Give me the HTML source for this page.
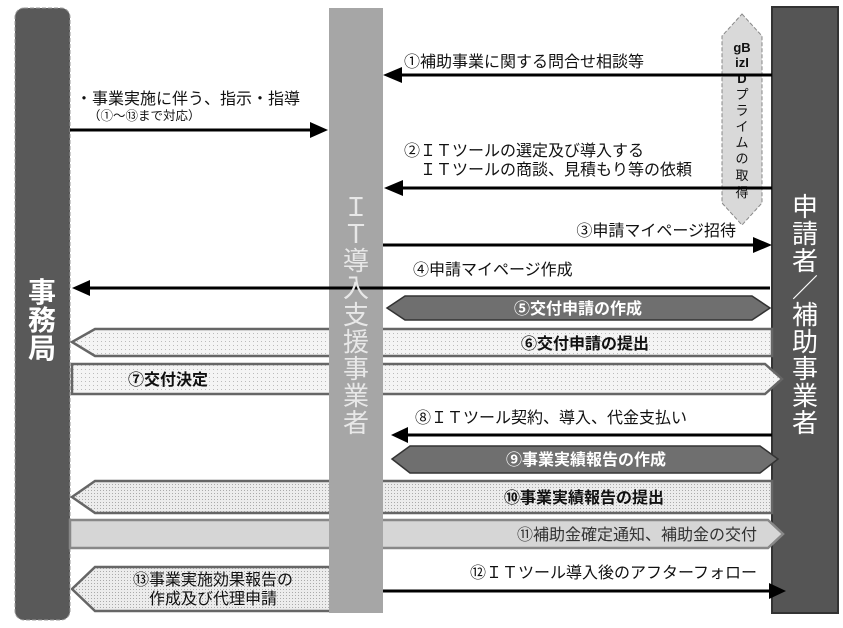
<!DOCTYPE html>
<html><head><meta charset="utf-8"><style>
body{margin:0;background:#fff}
svg{display:block;font-family:"Liberation Sans","Noto Sans CJK JP",sans-serif}
</style></head><body>
<svg width="843" height="628" viewBox="0 0 843 628" xmlns="http://www.w3.org/2000/svg">
<defs>
<pattern id="dots" width="4" height="4" patternUnits="userSpaceOnUse"><rect width="4" height="4" fill="#f4f4f4"/><rect x="1" y="1" width="1" height="1" fill="#bbb"/></pattern>
<pattern id="dots2" width="3" height="3" patternUnits="userSpaceOnUse"><rect width="3" height="3" fill="#ececec"/><rect x="1" y="1" width="1" height="1" fill="#aaa"/></pattern>
</defs>

<rect x="15" y="8" width="55" height="612" rx="9" fill="#595959" stroke="#999" stroke-dasharray="4 2"/>
<rect x="772" y="7" width="66" height="606" fill="#555" stroke="#333" stroke-width="2"/>

<polygon points="742,14 762,36 762,203 742,225 722,203 722,36" fill="#d9d9d9" stroke="#888" stroke-dasharray="4 2"/>
<g font-size="13" font-weight="bold" fill="#111" text-anchor="middle">
<text x="742" y="52">gB</text><text x="742" y="67">izI</text><text x="742" y="83">D</text>
<text x="742" y="99" font-weight="normal">プ</text><text x="742" y="115" font-weight="normal">ラ</text><text x="742" y="131" font-weight="normal">イ</text><text x="742" y="147" font-weight="normal">ム</text><text x="742" y="163" font-weight="normal">の</text><text x="742" y="180" font-weight="normal">取</text><text x="742" y="197" font-weight="normal">得</text>
</g>

<polygon points="95,329 772,329 772,356 95,356 72,342" fill="url(#dots)" stroke="#666" stroke-width="2.5"/>
<polygon points="72,364 765,364 782,379 765,394 72,394" fill="url(#dots)" stroke="#666" stroke-width="2.5"/>
<polygon points="95,481 772,481 772,513 95,513 72,497" fill="url(#dots2)" stroke="#666" stroke-width="2.5"/>
<polygon points="70,520 768,520 783,534 768,548 70,548" fill="#d6d6d6" stroke="#888" stroke-width="2.5"/>
<polygon points="95,567 332,567 332,611 95,611 72,589" fill="url(#dots2)" stroke="#666" stroke-width="2.5"/>
<polygon points="405,296 752,296 770,308 752,320 405,320 387,308" fill="#6f6f6f" stroke="#333" stroke-width="1.5"/>
<polygon points="410,446 760,446 778,459 760,473 410,473 392,459" fill="#6f6f6f" stroke="#333" stroke-width="1.5"/>

<rect x="329" y="8" width="54" height="605" fill="#a6a6a6"/>

<g stroke="#000" stroke-width="3">
<line x1="70" y1="130" x2="312" y2="130"/>
<line x1="772" y1="75" x2="400" y2="75"/>
<line x1="772" y1="188" x2="400" y2="188"/>
<line x1="383" y1="245" x2="755" y2="245"/>
<line x1="770" y1="288" x2="88" y2="288"/>
<line x1="772" y1="435" x2="404" y2="435"/>
<line x1="383" y1="591" x2="770" y2="591"/>
</g>
<g fill="#000">
<polygon points="328,130 310,122 310,138"/>
<polygon points="383,75 402,67 402,83"/>
<polygon points="384,188 403,180 403,196"/>
<polygon points="772,245 753,237 753,253"/>
<polygon points="72,288 90,280 90,296"/>
<polygon points="391,435 408,427 408,443"/>
<polygon points="786,591 769,583 769,599"/>
</g>

<g font-size="16" fill="#111">
<text x="76" y="104">・事業実施に伴う、指示・指導</text>
<text x="88" y="120" font-size="12.5">（①～⑬まで対応）</text>
<text x="404" y="67">①補助事業に関する問合せ相談等</text>
<text x="404" y="156">②ＩＴツールの選定及び導入する</text>
<text x="420" y="175">ＩＴツールの商談、見積もり等の依頼</text>
<text x="736" y="236" text-anchor="end">③申請マイページ招待</text>
<text x="413" y="275">④申請マイページ作成</text>
<text x="415" y="423">⑧ＩＴツール契約、導入、代金支払い</text>
<text x="470" y="578">⑫ＩＴツール導入後のアフターフォロー</text>
</g>
<g font-size="16" font-weight="bold">
<text x="578" y="314" fill="#fff" text-anchor="middle">⑤交付申請の作成</text>
<text x="585" y="349" fill="#111" text-anchor="middle">⑥交付申請の提出</text>
<text x="128" y="385" fill="#111">⑦交付決定</text>
<text x="586" y="465" fill="#fff" text-anchor="middle">⑨事業実績報告の作成</text>
<text x="584" y="503" fill="#111" text-anchor="middle">⑩事業実績報告の提出</text>
<text x="757" y="540" fill="#333" text-anchor="end" font-weight="normal">⑪補助金確定通知、補助金の交付</text>
<text x="213" y="585" fill="#111" text-anchor="middle" font-weight="normal">⑬事業実施効果報告の</text>
<text x="213" y="604" fill="#111" text-anchor="middle" font-weight="normal">作成及び代理申請</text>
</g>

<g font-size="28" font-weight="bold" fill="#fff" text-anchor="middle">
<text x="42" y="302">事</text><text x="42" y="330">務</text><text x="42" y="358">局</text>
</g>
<g font-size="26" fill="#e8e8e8" text-anchor="middle">
<text x="356" y="216">Ｉ</text><text x="356" y="243">Ｔ</text><text x="356" y="270">導</text><text x="356" y="297">入</text><text x="356" y="324">支</text><text x="356" y="351">援</text><text x="356" y="378">事</text><text x="356" y="405">業</text><text x="356" y="432">者</text>
</g>
<g font-size="26" fill="#fff" text-anchor="middle">
<text x="805" y="216">申</text><text x="805" y="243">請</text><text x="805" y="270">者</text><text x="805" y="297">／</text><text x="805" y="324">補</text><text x="805" y="351">助</text><text x="805" y="378">事</text><text x="805" y="405">業</text><text x="805" y="432">者</text>
</g>
</svg>
</body></html>
